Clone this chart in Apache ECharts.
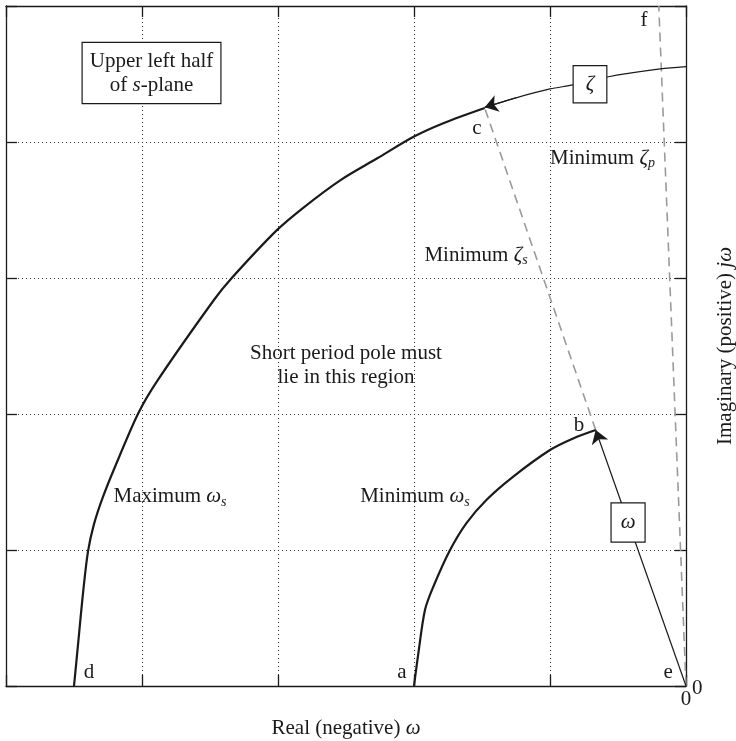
<!DOCTYPE html>
<html>
<head>
<meta charset="utf-8">
<script src="https://cdn.jsdelivr.net/npm/echarts@6/dist/echarts.min.js"></script>
<style>html,body{margin:0;padding:0;background:#fff;}#c{width:736px;height:741px;}</style>
</head>
<body>
<div id="c"></div>
<script>
// ---- data ----
const xRange = [-5, 0];
const yRange = [0, 5];
const shownTickLabels = ['0'];
const maxOmegaS = [[-4.50,0],[-4.467,0.34],[-4.434,0.68],[-4.397,0.99],[-4.353,1.19],[-4.287,1.39],[-4.199,1.61],[-4.03,2.0],[-3.89,2.24],[-3.47,2.84],[-3.34,3.0],[-3.01,3.35],[-2.81,3.52],[-2.54,3.72],[-2.27,3.88],[-2.0,4.04],[-1.78,4.14],[-1.48,4.25]];
const minOmegaS = [[-2.0,0],[-1.968,0.24],[-1.919,0.56],[-1.858,0.73],[-1.735,1.0],[-1.613,1.20],[-1.466,1.37],[-1.27,1.54],[-1.0,1.735],[-0.83,1.82],[-0.664,1.882]];
const zetaCurve = [[0,4.554],[-0.19,4.537],[-0.58,4.478],[-0.83,4.42],[-1.0,4.39],[-1.25,4.325],[-1.48,4.255]];
const omegaLine = [[0,0],[-0.664,1.882]];
const minZetaS = [[-0.664,1.882],[-1.48,4.25]];
const minZetaP = [[0,0],[-0.2,5]];
const annotations = [
  {text:'Upper left half\nof {i|s}-plane', at:[-3.93,4.507], box:'wide'},
  {text:'{i|ζ}', at:[-0.706,4.425], box:'zeta'},
  {text:'{i|ω}', at:[-0.426,1.202], box:'omega'},
  {text:'c', at:[-1.537,4.103]},
  {text:'f', at:[-0.309,4.897]},
  {text:'b', at:[-0.787,1.919]},
  {text:'a', at:[-2.088,0.096]},
  {text:'d', at:[-4.39,0.096]},
  {text:'e', at:[-0.132,0.096]},
  {text:'Minimum {i|ζ}{sub|p}', at:[-0.614,3.882]},
  {text:'Minimum {i|ζ}{sub|s}', at:[-1.544,3.169]},
  {text:'Maximum {i|ω}{sub|s}', at:[-3.794,1.39]},
  {text:'Minimum {i|ω}{sub|s}', at:[-1.993,1.39]},
  {text:'Short period pole must\nlie in this region', at:[-2.5,2.36]}
];

// ---- styling ----
const FONT = '"Liberation Serif","Times New Roman",serif';
const INK = '#1a1a1a';
const FS = 21;
const rich = {
  i: {fontFamily:FONT, fontStyle:'italic', fontSize:FS, color:INK, lineHeight:24},
  sub: {fontFamily:FONT, fontStyle:'italic', fontSize:14, color:INK, lineHeight:14, verticalAlign:'bottom'}
};
const boxStyles = {
  wide: {padding:[6,7], backgroundColor:'#fff', borderColor:INK, borderWidth:1.2},
  zeta: {padding:[6,12], backgroundColor:'#fff', borderColor:INK, borderWidth:1.2},
  omega: {padding:[7,9], backgroundColor:'#fff', borderColor:INK, borderWidth:1.2}
};
const axisLine = {show:true, onZero:false, lineStyle:{color:INK, width:1.3}};
const axisTick = {show:true, inside:true, length:11, lineStyle:{color:INK, width:1.3}};
const splitLine = {show:true, lineStyle:{type:[1,3], color:'#333', width:1}};
const norm = v => (Math.abs(v) < 1e-9 ? 0 : v);
const tickFmt = v => shownTickLabels.includes(String(norm(v))) ? String(norm(v)) : '';

const chart = echarts.init(document.getElementById('c'), null, {renderer:'canvas'});
const thick = {color:INK, width:2.2};
const thin = {color:INK, width:1.2, opacity:1};
const dashed = {color:'#9a9a9a', width:1.6, type:[9,6]};
const n = zetaCurve.length;

const option = {
  animation:false,
  backgroundColor:'#fff',
  grid:{left:6, top:6, width:680, height:680, show:false, containLabel:false, outerBoundsMode:'none'},
  xAxis:[
    {type:'value', min:xRange[0], max:xRange[1], interval:1, position:'bottom',
     axisLine, axisTick, splitLine,
     axisLabel:{formatter:tickFmt, fontFamily:FONT, fontSize:FS, color:INK, margin:3, showMaxLabel:true, showMinLabel:true},
     name:'Real (negative) {i|ω}', nameLocation:'middle', nameGap:30,
     nameTextStyle:{fontFamily:FONT, fontSize:FS, color:INK, lineHeight:24, rich}},
    {type:'value', min:xRange[0], max:xRange[1], interval:1, position:'top',
     axisLine, axisTick, splitLine:{show:false}, axisLabel:{show:false}}
  ],
  yAxis:[
    {type:'value', min:yRange[0], max:yRange[1], interval:1, position:'right',
     axisLine, axisTick, splitLine,
     axisLabel:{formatter:tickFmt, fontFamily:FONT, fontSize:FS, color:INK, margin:6, showMaxLabel:true, showMinLabel:true, verticalAlign:'top', padding:[-8,0,0,0]},
     name:'Imaginary (positive) {i|jω}', nameLocation:'middle', nameGap:24, nameRotate:90,
     nameTextStyle:{fontFamily:FONT, fontSize:FS, color:INK, lineHeight:24, rich}},
    {type:'value', min:yRange[0], max:yRange[1], interval:1, position:'left',
     axisLine, axisTick, splitLine:{show:false}, axisLabel:{show:false}}
  ],
  series:[
    {type:'line', data:maxOmegaS, showSymbol:false, smooth:0.3, lineStyle:thick, z:3},
    {type:'line', data:minOmegaS, showSymbol:false, smooth:0.3, lineStyle:thick, z:3},
    {type:'line', data:minZetaS, showSymbol:false, lineStyle:dashed, z:2},
    {type:'line', data:minZetaP, showSymbol:false, lineStyle:dashed, z:2},
    {type:'line', data:zetaCurve, showSymbol:false, smooth:0.3, lineStyle:thin, z:4},
    {type:'lines', coordinateSystem:'cartesian2d',
     data:[{coords:[zetaCurve[n-2], zetaCurve[n-1]]}], symbol:['none','arrow'], symbolSize:[9,13],
     lineStyle:thin, z:4},
    {type:'lines', coordinateSystem:'cartesian2d',
     data:[{coords:omegaLine}], symbol:['none','arrow'], symbolSize:[9,13],
     lineStyle:thin, z:4},
    {type:'scatter', symbolSize:1, itemStyle:{color:'rgba(0,0,0,0)', opacity:1}, silent:true, z:10,
     data:annotations.map(a => ({
       value:a.at,
       label:Object.assign({show:true, position:'inside', formatter:a.text, opacity:1,
         fontFamily:FONT, fontSize:FS, color:INK, lineHeight:24, align:'center', verticalAlign:'middle', rich},
         a.box ? boxStyles[a.box] : {})
     }))}
  ]
};
chart.setOption(option);
</script>
</body>
</html>
